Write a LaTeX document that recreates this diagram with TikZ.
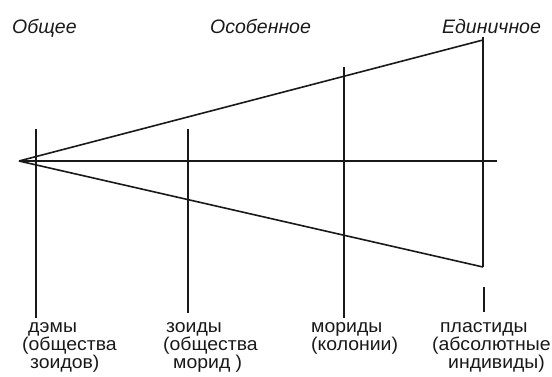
\documentclass[tikz,border=0pt]{standalone}
\usepackage{fontspec}
\setmainfont{Liberation Sans}
\newfontfamily\lblfont[FakeStretch=1.05]{Liberation Sans}
\begin{document}
\begin{tikzpicture}[x=1pt,y=-1pt,
  ln/.style={line width=1.6pt, black!90},
  lbl/.style={font=\lblfont\fontsize{18.5}{21}\selectfont, inner sep=0pt, anchor=base west, text=black!90, text height=12pt, text depth=3pt},
  ttl/.style={font=\fontsize{19.5}{22}\selectfont\itshape, inner sep=0pt, anchor=base west, text=black!90}]
\useasboundingbox (0,0) rectangle (552,376);
% key points
\coordinate (O) at (19,161);
\coordinate (H) at (497,161);
\coordinate (UT) at (483,40);
\coordinate (LB) at (483,267);
\coordinate (R4t) at (483,37);
\coordinate (V1t) at (36,129);
\coordinate (V1b) at (36,318);
\coordinate (V2t) at (188,129);
\coordinate (V2b) at (188,313);
\coordinate (V3t) at (344,67);
\coordinate (V3b) at (344,318);
\coordinate (T4t) at (484,287);
\coordinate (T4b) at (484,312);
% lines
\draw[ln] (O) -- (H);
\draw[ln] (O) -- (UT);
\draw[ln] (O) -- (LB);
\draw[ln] (R4t) -- (LB);
\draw[ln] (V1t) -- (V1b);
\draw[ln] (V2t) -- (V2b);
\draw[ln] (V3t) -- (V3b);
\draw[ln] (T4t) -- (T4b);
% titles
\node[ttl] (t1) at (12,33) {Общее};
\node[ttl] (t2) at (210,33) {Особенное};
\node[ttl] (t3) at (442,33) {Единичное};
% bottom labels
\node[lbl] (a1) at (28,332) {дэмы};
\node[lbl] (a2) at (22,350) {(общества};
\node[lbl] (a3) at (30,368) {зоидов)};
\node[lbl] (b1) at (166,332) {зоиды};
\node[lbl] (b2) at (163,350) {(общества};
\node[lbl] (b3) at (173,368) {морид )};
\node[lbl] (c1) at (311,332) {мориды};
\node[lbl] (c2) at (311,350) {(колонии)};
\node[lbl] (d1) at (440,332) {пластиды};
\node[lbl] (d2) at (432,350) {(абсолютные};
\node[lbl] (d3) at (448,368) {индивиды)};
\end{tikzpicture}
\end{document}
